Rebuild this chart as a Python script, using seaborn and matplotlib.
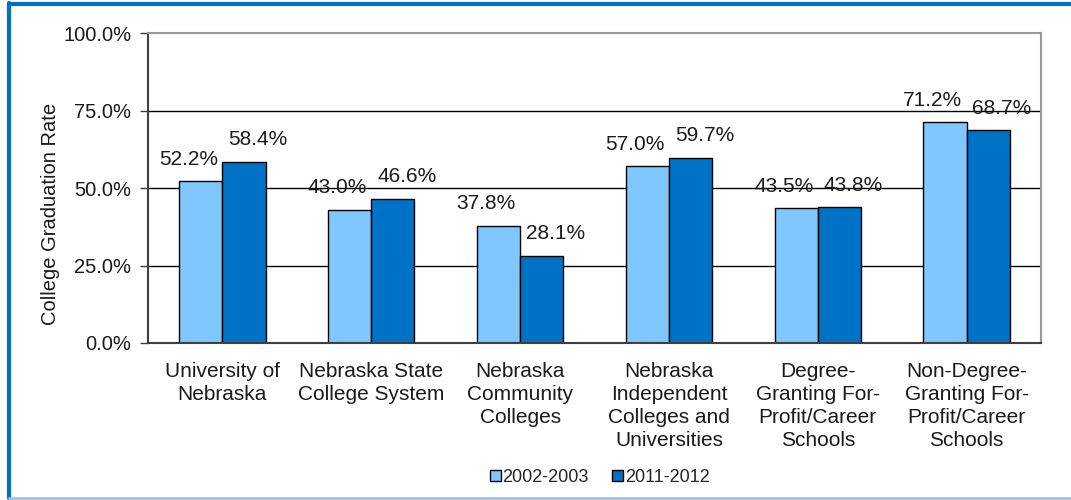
import pandas as pd
import matplotlib.pyplot as plt
import seaborn as sns
from matplotlib.lines import Line2D
from matplotlib.patches import Patch

# data
categories = ["University of\nNebraska", "Nebraska State\nCollege System",
              "Nebraska\nCommunity\nColleges", "Nebraska\nIndependent\nColleges and\nUniversities",
              "Degree-\nGranting For-\nProfit/Career\nSchools",
              "Non-Degree-\nGranting For-\nProfit/Career\nSchools"]
years = ["2002-2003", "2011-2012"]
rate_2002 = [52.2, 43.0, 37.8, 57.0, 43.5, 71.2]
rate_2011 = [58.4, 46.6, 28.1, 59.7, 43.8, 68.7]
yticks = [0, 25, 50, 75, 100]

light_blue = "#80C6FF"
dark_blue = "#0072C6"

df = pd.DataFrame({
    "School": categories * 2,
    "Year": [years[0]] * len(categories) + [years[1]] * len(categories),
    "Rate": rate_2002 + rate_2011,
})

sns.set_style("white")
plt.rcParams['font.family'] = ['Liberation Sans', 'DejaVu Sans']

fig = plt.figure(figsize=(10.71, 5.0), dpi=100)
ax = fig.add_axes([0.1382, 0.314, 0.972 - 0.1382, 0.62])

sns.barplot(data=df, x="School", y="Rate", hue="Year", order=categories,
            hue_order=years, palette=[light_blue, dark_blue], width=0.58,
            saturation=1, edgecolor="black", linewidth=1, ax=ax,
            legend=False, gap=0)

# value labels, pushed apart a little like excel does
for i in range(len(categories)):
    for j, vals in enumerate([rate_2002, rate_2011]):
        xpos = i - 0.145 if j == 0 else i + 0.145
        dx = -9 if j == 0 else 10
        ax.annotate(f"{vals[i]:.1f}%", (xpos, vals[i]), xytext=(dx, 9),
                    textcoords="offset points", ha="center", va="bottom",
                    fontsize=15, color="#1a1a1a")

ax.set_ylim(0, 100)
ax.set_xlim(-0.5, len(categories) - 0.5)
ax.set_yticks(yticks)
ax.set_yticklabels([f"{t:.1f}%" for t in yticks], fontsize=14.5, color="#1a1a1a")
for t in yticks[1:-1]:
    ax.axhline(t, color="black", lw=1, zorder=0)

ax.set_xticks([i - 0.5 for i in range(len(categories) + 1)])
ax.set_xticklabels([])
ax.set_xticks(range(len(categories)), minor=True)
ax.set_xticklabels(categories, minor=True, fontsize=15, color="#1a1a1a",
                   linespacing=1.26)
ax.tick_params(axis="x", which="major", length=6, width=1, color="#404040", direction="out")
ax.tick_params(axis="x", which="minor", length=0, pad=14)
ax.tick_params(axis="y", length=6, width=1, color="#404040", direction="out", left=True, pad=6)
ax.set_xlabel("")
ax.set_ylabel("")

for side in ["top", "right"]:
    ax.spines[side].set_color("#999999")
    ax.spines[side].set_linewidth(1.5)
ax.spines["left"].set_color("#404040")
ax.spines["left"].set_linewidth(1.5)
ax.spines["bottom"].set_color("#404040")
ax.spines["bottom"].set_linewidth(1.5)

fig.text(0.047, 0.572, "College Graduation Rate", rotation=90, ha="center",
         va="center", fontsize=14.5, color="#1a1a1a")

handles = [Patch(facecolor=light_blue, edgecolor="black", label=years[0]),
           Patch(facecolor=dark_blue, edgecolor="black", label=years[1])]
fig.legend(handles=handles, loc="center", bbox_to_anchor=(0.56, 0.045), ncol=2,
           frameon=False, fontsize=13, handlelength=0.6, handleheight=0.6,
           handletextpad=0.1, columnspacing=1.3)

# outer border of the chart
fig.add_artist(Line2D([0.008, 0.008], [0.004, 0.994], color="#0070C0", lw=3))
fig.add_artist(Line2D([0.008, 1.0], [0.992, 0.992], color="#0070C0", lw=3))
fig.add_artist(Line2D([0.008, 1.0], [0.004, 0.004], color="#9DC3E6", lw=2))

fig.savefig("out.png", dpi=100)
